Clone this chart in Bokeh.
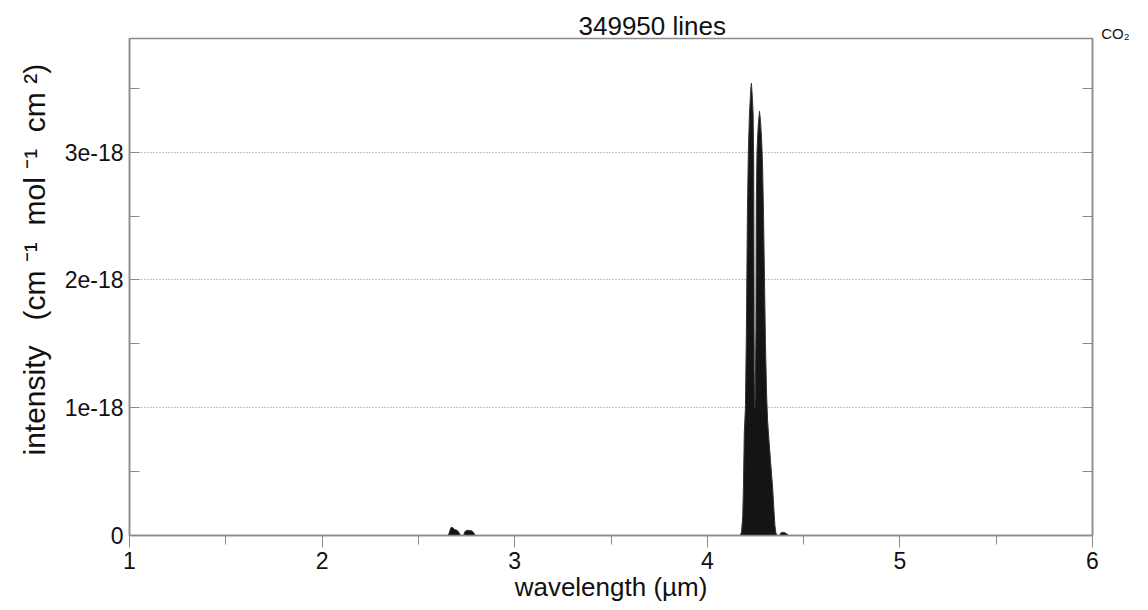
from bokeh.plotting import figure
from bokeh.models import (FixedTicker, LinearAxis, Range1d, ColumnDataSource, Title)
from bokeh.embed import file_html
from bokeh.resources import INLINE

# ---- data (intensity in units of 1e-18 cm^-1 mol^-1 cm^2) ----
title_text = "349950 lines"
species = "CO\u2082"
x_label = "wavelength (\u00b5m)"
NB = "\u00a0"
y_label = ("intensity" + NB * 3 + "(cm" + NB + "\u207b\u00b9" + NB * 2 + "mol" + NB +
           "\u207b\u00b9" + NB * 2 + "cm" + NB + "\u00b2)")

# envelope of the CO2 line spectrum (wavelength um, intensity 1e-18)
band27_wl = [2.655, 2.662, 2.668, 2.676, 2.684, 2.692, 2.702, 2.712, 2.718,
             2.735, 2.741, 2.750, 2.765, 2.778, 2.788, 2.795]
band27_int = [0.0, 0.03, 0.06, 0.065, 0.05, 0.045, 0.04, 0.02, 0.0,
              0.0, 0.03, 0.04, 0.04, 0.035, 0.02, 0.0]

band43_wl = [4.172, 4.178, 4.184, 4.188, 4.192, 4.198, 4.203, 4.208, 4.213,
             4.219, 4.226, 4.229, 4.233, 4.238, 4.241, 4.2435, 4.246, 4.249,
             4.2525, 4.2545, 4.258, 4.264, 4.271, 4.276, 4.282, 4.287, 4.292,
             4.297, 4.302, 4.308, 4.313, 4.320, 4.330, 4.339, 4.346, 4.351,
             4.356, 4.362, 4.375, 4.382, 4.392, 4.405, 4.415, 4.422]
band43_int = [0.0, 0.03, 0.15, 0.4, 0.8, 1.0, 1.6, 2.5, 3.0,
              3.3, 3.5, 3.54, 3.45, 3.3, 2.9, 1.3, 1.0, 1.1,
              1.6, 2.6, 3.0, 3.2, 3.32, 3.25, 3.1, 2.9, 2.5,
              2.0, 1.5, 1.1, 0.9, 0.75, 0.55, 0.38, 0.2, 0.08,
              0.02, 0.0, 0.0, 0.02, 0.025, 0.02, 0.01, 0.0]

x_ticks = [1, 2, 3, 4, 5, 6]
x_minor = [1.5, 2.5, 3.5, 4.5, 5.5]
y_ticks = [0, 1, 2, 3]
y_minor = [0.5, 1.5, 2.5, 3.5]
y_tick_labels = {0: "0", 1: "1e-18", 2: "2e-18", 3: "3e-18"}

FONT = "Liberation Sans"
GREY = "#8a8a8a"
TXT = "#111111"

p = figure(width=1148, height=610, output_backend="svg", toolbar_location=None,
           title=None,
           x_range=Range1d(1, 6), y_range=Range1d(0, 3.89),
           min_border_left=129, min_border_right=56, min_border_top=38,
           min_border_bottom=75)
p.background_fill_color = "white"
p.border_fill_color = "white"
p.outline_line_color = GREY
p.outline_line_width = 1.5

# species tag (closest to the frame, right of the frame) and main title (overlapping row)
p.add_layout(Title(text=species, align="right", offset=-37, standoff=-6,
                   text_font=FONT, text_font_size="15px", text_font_style="normal",
                   text_color=TXT), "above")
p.add_layout(Title(text=title_text, align="left", offset=449, standoff=-31,
                   text_font=FONT, text_font_size="26px", text_font_style="normal",
                   text_color=TXT), "above")

src27 = ColumnDataSource(dict(x=band27_wl, y=band27_int))
src43 = ColumnDataSource(dict(x=band43_wl, y=band43_int))
for s in (src27, src43):
    p.varea(x="x", y1=0, y2="y", source=s, fill_color="#141414")
    p.line(x="x", y="y", source=s, line_color="#333333", line_width=1)

# bottom axis
xa = p.xaxis[0]
xa.ticker = FixedTicker(ticks=x_ticks, minor_ticks=x_minor)
xa.axis_line_color = GREY
xa.axis_line_width = 1.5
xa.major_tick_line_color = GREY
xa.minor_tick_line_color = GREY
xa.major_tick_in = 0
xa.major_tick_out = 12
xa.minor_tick_in = 0
xa.minor_tick_out = 9
xa.major_label_standoff = 4
xa.major_label_text_font = FONT
xa.major_label_text_font_size = "23px"
xa.major_label_text_color = TXT
xa.axis_label = x_label
xa.axis_label_text_font = FONT
xa.axis_label_text_font_size = "26px"
xa.axis_label_text_font_style = "normal"
xa.axis_label_text_color = TXT
xa.axis_label_standoff = 0

# left axis
ya = p.yaxis[0]
ya.ticker = FixedTicker(ticks=y_ticks, minor_ticks=y_minor)
ya.major_label_overrides = y_tick_labels
ya.axis_line_color = GREY
ya.axis_line_width = 1.5
ya.major_tick_line_color = GREY
ya.minor_tick_line_color = GREY
ya.major_tick_in = 10
ya.major_tick_out = 0
ya.minor_tick_in = 10
ya.minor_tick_out = 0
ya.major_label_standoff = 6
ya.major_label_text_font = FONT
ya.major_label_text_font_size = "23px"
ya.major_label_text_color = TXT

# y label as a title in the left panel (shifted up from the frame bottom)
p.add_layout(Title(text=y_label, align="left", offset=80, standoff=22,
                   text_font=FONT, text_font_size="30px", text_font_style="normal",
                   text_color=TXT), "left")

# right axis
ra = LinearAxis(ticker=FixedTicker(ticks=y_ticks, minor_ticks=y_minor))
ra.axis_line_color = GREY
ra.axis_line_width = 1.5
ra.major_tick_line_color = GREY
ra.minor_tick_line_color = GREY
ra.major_tick_in = 10
ra.major_tick_out = 0
ra.minor_tick_in = 10
ra.minor_tick_out = 0
ra.major_label_text_font_size = "0px"
ra.major_label_text_color = None
p.add_layout(ra, "right")

p.xgrid.grid_line_color = None
p.ygrid.ticker = FixedTicker(ticks=[1, 2, 3])
p.ygrid.grid_line_color = GREY
p.ygrid.grid_line_dash = "1 2"
p.ygrid.grid_line_width = 1

open("out.html", "w").write(file_html(p, INLINE))
